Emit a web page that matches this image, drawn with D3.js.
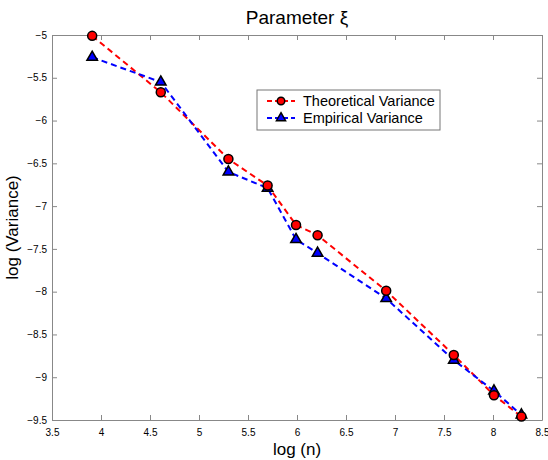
<!DOCTYPE html>
<html>
<head>
<meta charset="utf-8">
<script src="https://cdn.jsdelivr.net/npm/d3@7"></script>
<style>
  body { margin: 0; background: #fff; }
  svg text { font-family: "Liberation Sans", Arial, sans-serif; }
</style>
</head>
<body>
<div id="chart"></div>
<script>
// log(n) for n = 50, 100, 200, 300, 400, 500, 1000, 2000, 3000, 4000
var logN = [3.91, 4.61, 5.30, 5.70, 5.99, 6.21, 6.91, 7.60, 8.01, 8.29];
var theoretical = [-5.01, -5.67, -6.45, -6.76, -7.22, -7.34, -7.99, -8.74, -9.21, -9.46];
var empirical = [-5.26, -5.55, -6.60, -6.79, -7.39, -7.55, -8.08, -8.80, -9.16, -9.44];
var xTicks = [3.5, 4, 4.5, 5, 5.5, 6, 6.5, 7, 7.5, 8, 8.5];
var yTicks = [-5, -5.5, -6, -6.5, -7, -7.5, -8, -8.5, -9, -9.5];
var seriesNames = ["Theoretical Variance", "Empirical Variance"];

// set the dimensions and margins of the graph
var margin = {top: 35, right: 6, bottom: 40, left: 52},
    width = 548 - margin.left - margin.right,
    height = 460 - margin.top - margin.bottom;

var x = d3.scaleLinear().domain([3.5, 8.5]).range([0, width]);
var y = d3.scaleLinear().domain([-9.5, -5]).range([height, 0]);

var svg = d3.select("#chart").append("svg")
    .attr("width", 548)
    .attr("height", 460)
  .append("g")
    .attr("transform", "translate(" + margin.left + "," + margin.top + ")");

// axes, ticks pointing inward on all four sides
var tickLen = 5;
function styleAxis(g) {
  g.select(".domain").attr("stroke", "#888").attr("stroke-width", 1);
  g.selectAll(".tick line").attr("stroke", "#888");
  g.selectAll(".tick text").attr("fill", "#000").style("font-size", "10px");
}

svg.append("g")
    .attr("transform", "translate(0," + height + ")")
    .call(d3.axisBottom(x).tickValues(xTicks).tickSize(-tickLen).tickSizeOuter(0).tickPadding(9).tickFormat(d3.format("")))
    .call(styleAxis);

svg.append("g")
    .call(d3.axisTop(x).tickValues(xTicks).tickSize(-tickLen).tickSizeOuter(0).tickFormat(""))
    .call(styleAxis);

svg.append("g")
    .call(d3.axisLeft(y).tickValues(yTicks).tickSize(-tickLen).tickSizeOuter(0).tickPadding(5).tickFormat(d3.format("")))
    .call(styleAxis);

svg.append("g")
    .attr("transform", "translate(" + width + ",0)")
    .call(d3.axisRight(y).tickValues(yTicks).tickSize(-tickLen).tickSizeOuter(0).tickFormat(""))
    .call(styleAxis);

// lines
var line = d3.line()
    .x(function(d) { return x(d[0]); })
    .y(function(d) { return y(d[1]); });

var theoData = logN.map(function(v, i) { return [v, theoretical[i]]; });
var empData = logN.map(function(v, i) { return [v, empirical[i]]; });

svg.append("path")
    .datum(theoData)
    .attr("fill", "none")
    .attr("stroke", "red")
    .attr("stroke-width", 2)
    .attr("stroke-dasharray", "6,4")
    .attr("d", line);

svg.append("path")
    .datum(empData)
    .attr("fill", "none")
    .attr("stroke", "blue")
    .attr("stroke-width", 2)
    .attr("stroke-dasharray", "6,4")
    .attr("d", line);

var circleSym = d3.symbol().type(d3.symbolCircle).size(64);
var triSym = d3.symbol().type(d3.symbolTriangle).size(48);
var circleSymSmall = d3.symbol().type(d3.symbolCircle).size(44);
var triSymSmall = d3.symbol().type(d3.symbolTriangle).size(36);

svg.selectAll(".tri")
    .data(empData)
  .enter().append("path")
    .attr("class", "tri")
    .attr("transform", function(d) { return "translate(" + x(d[0]) + "," + y(d[1]) + ")"; })
    .attr("d", triSym)
    .attr("fill", "blue")
    .attr("stroke", "black")
    .attr("stroke-width", 1.5);

svg.selectAll(".circ")
    .data(theoData)
  .enter().append("path")
    .attr("class", "circ")
    .attr("transform", function(d) { return "translate(" + x(d[0]) + "," + y(d[1]) + ")"; })
    .attr("d", circleSym)
    .attr("fill", "red")
    .attr("stroke", "black")
    .attr("stroke-width", 1.5);

// legend
var legend = svg.append("g")
    .attr("transform", "translate(" + (257 - margin.left) + "," + (90 - margin.top) + ")");

legend.append("rect")
    .attr("width", 183)
    .attr("height", 40)
    .attr("fill", "#fff")
    .attr("stroke", "#777")
    .attr("stroke-width", 1);

var legendColors = ["red", "blue"];
var legendSyms = [circleSymSmall, triSymSmall];
seriesNames.forEach(function(name, i) {
  var ly = 11 + i * 17;
  legend.append("line")
      .attr("x1", 10).attr("x2", 38)
      .attr("y1", ly).attr("y2", ly)
      .attr("stroke", legendColors[i])
      .attr("stroke-width", 2)
      .attr("stroke-dasharray", "5,3");
  legend.append("path")
      .attr("transform", "translate(24," + ly + ")")
      .attr("d", legendSyms[i])
      .attr("fill", legendColors[i])
      .attr("stroke", "black")
      .attr("stroke-width", 1.5);
  legend.append("text")
      .attr("x", 46)
      .attr("y", ly + 5)
      .style("font-size", "14.5px")
      .text(name);
});

// title and axis labels
svg.append("text")
    .attr("x", width / 2)
    .attr("y", -11)
    .attr("text-anchor", "middle")
    .style("font-size", "19px")
    .text("Parameter \u03BE");

svg.append("text")
    .attr("x", width / 2)
    .attr("y", height + 35)
    .attr("text-anchor", "middle")
    .style("font-size", "17px")
    .text("log (n)");

svg.append("text")
    .attr("transform", "translate(-34," + (height / 2) + ") rotate(-90)")
    .attr("text-anchor", "middle")
    .style("font-size", "17px")
    .text("log (Variance)");
</script>
</body>
</html>
